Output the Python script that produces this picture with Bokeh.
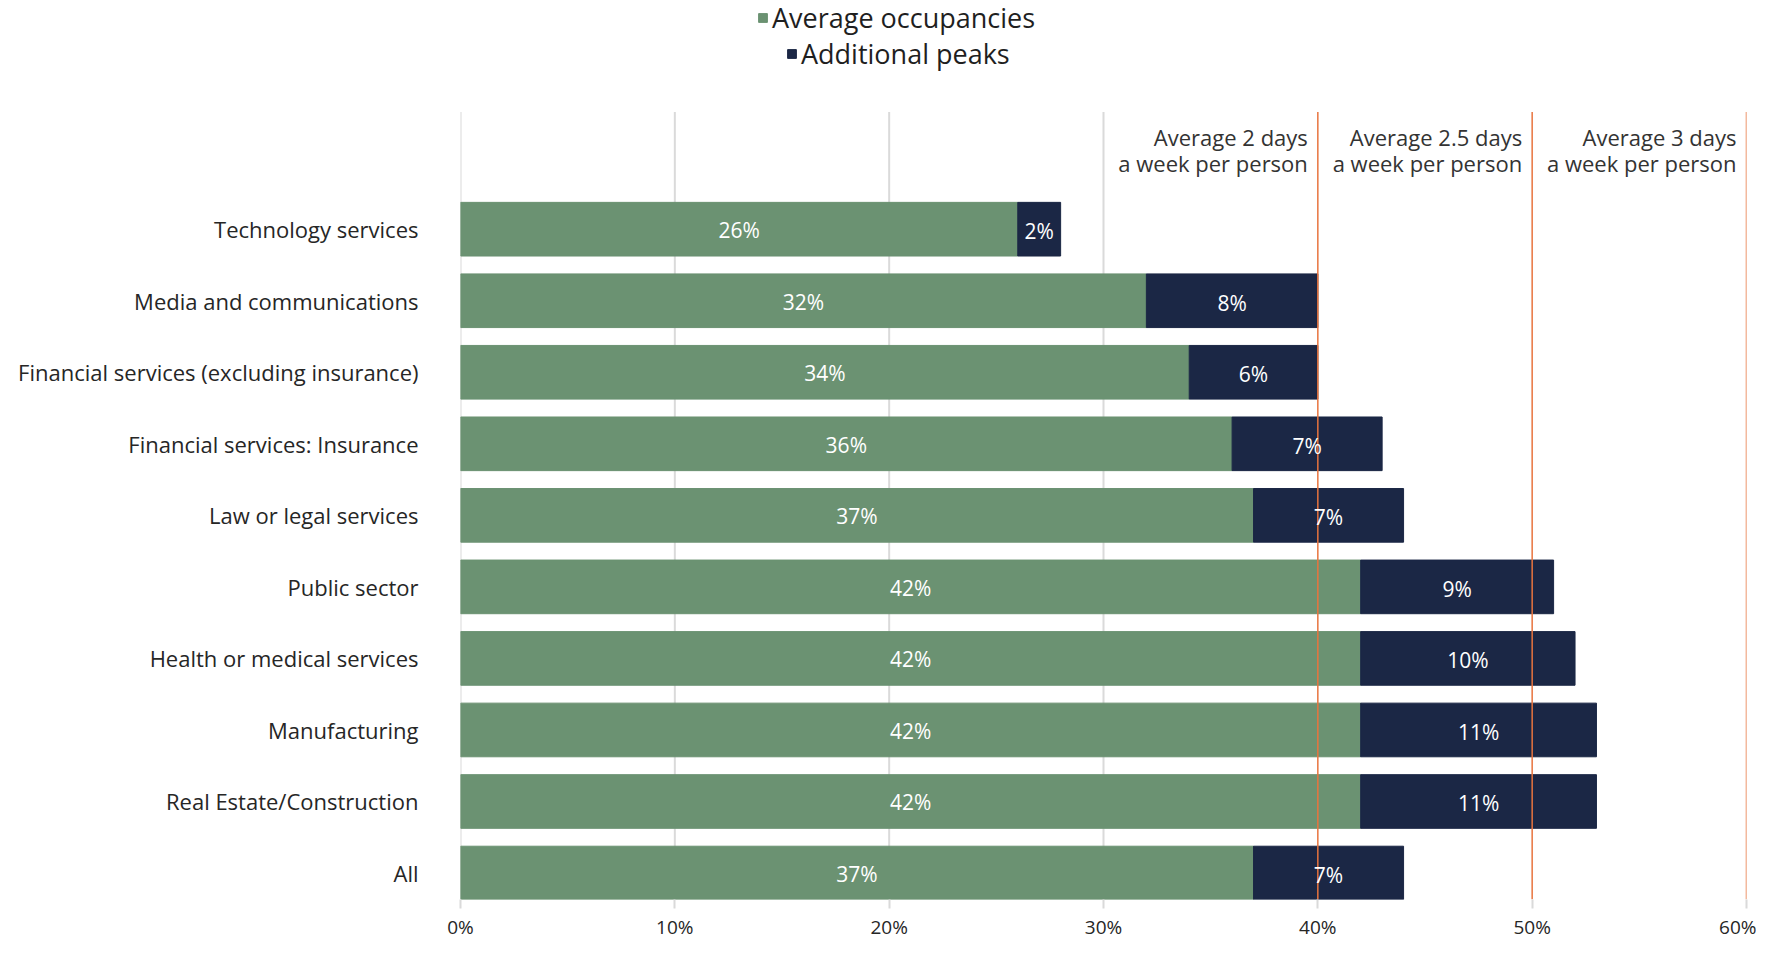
from bokeh.plotting import figure
from bokeh.models import Range1d, FixedTicker, Legend, LegendItem, ColumnDataSource
from bokeh.core.properties import value
from bokeh.embed import file_html
from bokeh.resources import INLINE

categories = [
    "Technology services",
    "Media and communications",
    "Financial services (excluding insurance)",
    "Financial services: Insurance",
    "Law or legal services",
    "Public sector",
    "Health or medical services",
    "Manufacturing",
    "Real Estate/Construction",
    "All",
]
average = [26, 32, 34, 36, 37, 42, 42, 42, 42, 37]
peaks = [2, 8, 6, 7, 7, 9, 10, 11, 11, 7]
series_names = ["Average occupancies", "Additional peaks"]
x_ticks = [0, 10, 20, 30, 40, 50, 60]
x_tick_labels = ["0%", "10%", "20%", "30%", "40%", "50%", "60%"]
thresholds = [40, 50, 60]
threshold_line1 = ["Average 2 days", "Average 2.5 days", "Average 3 days"]
threshold_line2 = ["a week per person", "a week per person", "a week per person"]

FONT = "Open Sans"
GREEN = "#6B9272"
NAVY = "#1B2745"
ORANGE = "#E8743F"
GRID = "#DADADA"

n = len(categories)
ypos = [n - 1 - i for i in range(n)]
totals = [a + b for a, b in zip(average, peaks)]

# vertical layout: bars area from y_lo to grid_top; extra room above for the legend
H, BOTTOM = 942, 38
y_lo, grid_top = -0.37, 10.64
area_px = 792.0                       # pixel height of the gridded area
unit = area_px / (grid_top - y_lo)
frame_px = H - BOTTOM
y_hi = y_lo + frame_px / unit

src = ColumnDataSource(dict(
    y=ypos,
    zero=[0] * n,
    avg=average,
    tot=totals,
    avg_mid=[a / 2 for a in average],
    peak_mid=[a + b / 2 for a, b in zip(average, peaks)],
    avg_lbl=[f"{a}%" for a in average],
    peak_lbl=[f"{b}%" for b in peaks],
))

p = figure(width=1756, height=H, x_range=Range1d(0, 60), y_range=Range1d(y_lo, y_hi),
           output_backend="svg", toolbar_location=None,
           min_border_left=460, min_border_right=10, min_border_top=0, min_border_bottom=BOTTOM)
p.outline_line_color = None
p.background_fill_color = "white"
p.xgrid.grid_line_color = None
p.ygrid.grid_line_color = None

grid_x = [t for t in x_ticks if t < thresholds[0]]
p.segment(x0=grid_x, x1=grid_x, y0=[y_lo] * len(grid_x), y1=[grid_top] * len(grid_x),
          line_color=GRID, line_width=2)

r1 = p.hbar(y="y", left="zero", right="avg", height=0.75, source=src, color=GREEN)
r2 = p.hbar(y="y", left="avg", right="tot", height=0.75, source=src, color=NAVY)

p.segment(x0=thresholds, x1=thresholds, y0=[y_lo] * 3, y1=[grid_top] * 3,
          line_color=ORANGE, line_width=1.5)

p.text(x="avg_mid", y="y", text="avg_lbl", source=src, text_color="white",
       text_align="center", text_baseline="middle", text_font=value(FONT),
       text_font_size="21px", y_offset=1)
p.text(x="peak_mid", y="y", text="peak_lbl", source=src, text_color="white",
       text_align="center", text_baseline="middle", text_font=value(FONT),
       text_font_size="21px", y_offset=2)

p.text(x=thresholds, y=[grid_top] * 3, text=threshold_line1, x_offset=-10, y_offset=25,
       text_align="right", text_baseline="middle", text_font=value(FONT),
       text_font_size="22px", text_color="#333333")
p.text(x=thresholds, y=[grid_top] * 3, text=threshold_line2, x_offset=-10, y_offset=51,
       text_align="right", text_baseline="middle", text_font=value(FONT),
       text_font_size="22px", text_color="#333333")

# axes
p.yaxis.ticker = FixedTicker(ticks=ypos)
p.yaxis.major_label_overrides = {y: c for y, c in zip(ypos, categories)}
p.yaxis.axis_line_color = None
p.yaxis.major_tick_line_color = None
p.yaxis.minor_tick_line_color = None
p.yaxis.major_label_standoff = 36
p.yaxis.major_label_text_font = FONT
p.yaxis.major_label_text_font_size = "22px"
p.yaxis.major_label_text_color = "#262626"

p.xaxis.ticker = FixedTicker(ticks=x_ticks)
p.xaxis.major_label_overrides = {t: l for t, l in zip(x_ticks, x_tick_labels)}
p.xaxis.axis_line_color = None
p.xaxis.major_tick_out = 9
p.xaxis.major_tick_in = 0
p.xaxis.major_tick_line_color = GRID
p.xaxis.major_tick_line_width = 2
p.xaxis.minor_tick_line_color = None
p.xaxis.major_label_standoff = 5
p.xaxis.major_label_text_font = FONT
p.xaxis.major_label_text_font_size = "19px"
p.xaxis.major_label_text_color = "#262626"

def make_legend(name, r, loc):
    lg = Legend(items=[LegendItem(label=name, renderers=[r])], location=loc,
                orientation="horizontal")
    lg.border_line_color = None
    lg.background_fill_alpha = 0
    lg.label_text_font = FONT
    lg.label_text_font_size = "27px"
    lg.label_text_color = "#1f1f1f"
    lg.glyph_width = 11
    lg.glyph_height = 11
    lg.label_standoff = 4
    lg.padding = 0
    lg.margin = 0
    lg.spacing = 0
    lg.label_height = 30
    return lg

p.add_layout(make_legend(series_names[0], r1, (297, 863)), "center")
p.add_layout(make_legend(series_names[1], r2, (326, 827)), "center")

open("out.html", "w").write(file_html(p, INLINE))
